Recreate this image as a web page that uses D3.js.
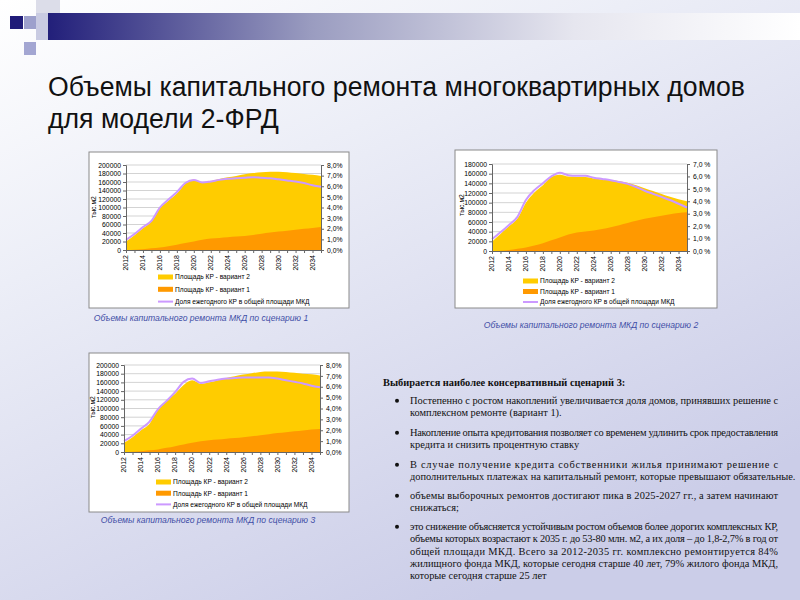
<!DOCTYPE html>
<html>
<head>
<meta charset="utf-8">
<script src="https://cdn.jsdelivr.net/npm/d3@7"></script>
<style>
  body { margin: 0; padding: 0; }
  svg { display: block; }
</style>
</head>
<body>
<div id="main"></div>
<script>
// categories
var years = [2012, 2013, 2014, 2015, 2016, 2017, 2018, 2019, 2020, 2021, 2022, 2023,
             2024, 2025, 2026, 2027, 2028, 2029, 2030, 2031, 2032, 2033, 2034, 2035];
var yearLabels = [2012, 2014, 2016, 2018, 2020, 2022, 2024, 2026, 2028, 2030, 2032, 2034];

// scenario 1 (thousand m2 / %)
var s1Var2 = [20000, 35000, 51000, 67000, 98000, 116000, 133000, 156000, 166000, 158000, 162000, 167000,
              171000, 174000, 178000, 181000, 183000, 184000, 184000, 183000, 181000, 179000, 177000, 174000];
var s1Var1 = [0, 500, 2000, 4000, 6000, 9000, 12500, 16500, 20000, 24000, 27000, 28500,
              30000, 31500, 33000, 35500, 38500, 41000, 43500, 45500, 47500, 50000, 52000, 54000];
var s1Share = [0.95, 1.5, 2.15, 2.75, 4.0, 4.75, 5.45, 6.3, 6.6, 6.35, 6.45, 6.6,
               6.7, 6.75, 6.8, 6.85, 6.8, 6.75, 6.65, 6.55, 6.45, 6.3, 6.1, 5.95];

// scenario 2
var s2Var2 = [19000, 35000, 51000, 67000, 100000, 121000, 136000, 153000, 158000, 154000, 153000, 153000,
              150000, 148000, 147000, 145000, 141000, 136000, 130000, 124000, 118000, 112000, 107000, 103000];
var s2Var1 = [0, 500, 2000, 4500, 7500, 11500, 16000, 22000, 28000, 34000, 38500, 40500,
              42500, 45500, 49000, 53500, 58000, 62500, 66500, 70000, 73000, 76000, 78500, 80000];
var s2Share = [0.95, 1.5, 2.1, 2.75, 4.1, 4.9, 5.45, 6.0, 6.3, 6.1, 6.05, 6.05,
               5.9, 5.8, 5.7, 5.55, 5.4, 5.15, 4.85, 4.6, 4.35, 4.1, 3.8, 3.5];

// scenario 3
var s3Var2 = [21000, 34000, 50000, 65000, 98000, 118000, 134000, 154000, 165000, 157000, 160000, 165000,
              170000, 174000, 178000, 181000, 184000, 185000, 185000, 184000, 182000, 180000, 179000, 176000];
var s3Var1 = [0, 500, 2000, 4000, 6000, 9500, 13500, 17500, 21000, 24500, 27000, 28500,
              30500, 32000, 34000, 36000, 38500, 41000, 43500, 45500, 47500, 49500, 51500, 53000];
var s3Share = [1.0, 1.5, 2.15, 2.8, 3.95, 4.7, 5.5, 6.45, 6.75, 6.35, 6.5, 6.65,
               6.75, 6.8, 6.85, 6.85, 6.85, 6.85, 6.75, 6.6, 6.45, 6.3, 6.1, 5.95];

var leftTicks200 = [0, 20000, 40000, 60000, 80000, 100000, 120000, 140000, 160000, 180000, 200000];
var leftTicks180 = [0, 20000, 40000, 60000, 80000, 100000, 120000, 140000, 160000, 180000];
var rightTicks8 = [0, 1, 2, 3, 4, 5, 6, 7, 8];
var rightTicks7 = [0, 1, 2, 3, 4, 5, 6, 7];

var legendNames = ["Площадь КР - вариант 2", "Площадь КР - вариант 1", "Доля ежегодного КР в общей площади МКД"];
var captions = ["Объемы капитального ремонта МКД по сценарию 1",
                "Объемы капитального ремонта МКД по сценарию 2",
                "Объемы капитального ремонта МКД по сценарию 3"];

var W = 800, H = 600;
var svg = d3.select("#main").append("svg")
  .attr("width", W).attr("height", H);

var defs = svg.append("defs");
var bg = defs.append("linearGradient").attr("id", "bg")
  .attr("x1", "0").attr("y1", "0").attr("x2", "0.6").attr("y2", "1");
bg.append("stop").attr("offset", "0").attr("stop-color", "#ffffff");
bg.append("stop").attr("offset", "0.35").attr("stop-color", "#eceef7");
bg.append("stop").attr("offset", "1").attr("stop-color", "#cbcde8");

var bar = defs.append("linearGradient").attr("id", "bar")
  .attr("x1", "0").attr("y1", "0").attr("x2", "1").attr("y2", "0");
bar.append("stop").attr("offset", "0").attr("stop-color", "#221f7a");
bar.append("stop").attr("offset", "0.35").attr("stop-color", "#9a9cc0");
bar.append("stop").attr("offset", "0.7").attr("stop-color", "#e6e6ef");
bar.append("stop").attr("offset", "1").attr("stop-color", "#ffffff");

svg.append("rect").attr("width", W).attr("height", H).attr("fill", "url(#bg)");

// header decoration
svg.append("rect").attr("x", 48).attr("y", 13).attr("width", 752).attr("height", 27).attr("fill", "url(#bar)");
svg.append("rect").attr("x", 36).attr("y", 0).attr("width", 24).attr("height", 13).attr("fill", "#dcdde9");
svg.append("rect").attr("x", 10).attr("y", 16).attr("width", 13).attr("height", 13).attr("fill", "#1f1b78");
svg.append("rect").attr("x", 24).attr("y", 16).attr("width", 12).attr("height", 13).attr("fill", "#9da0cc");
svg.append("rect").attr("x", 36).attr("y", 13).attr("width", 12).attr("height", 27).attr("fill", "#c9cbe2");
svg.append("rect").attr("x", 24).attr("y", 42).attr("width", 12).attr("height", 13).attr("fill", "#a3a6d2");

// title
var title = svg.append("g").attr("font-family", "Liberation Sans, Arial, sans-serif")
  .attr("font-size", 28).attr("fill", "#111");
var t1 = title.append("text").attr("x", 48).attr("y", 96)
  .text("Объемы капитального ремонта многоквартирных домов");
var t2 = title.append("text").attr("x", 48).attr("y", 128).text("для модели 2-ФРД");
var k = 697 / t1.node().getComputedTextLength();
t1.attr("transform", "translate(48,0) scale(" + k + ",1) translate(-48,0)");
t2.attr("transform", "translate(48,0) scale(" + k + ",1) translate(-48,0)");

function fmtPct(v, sp) {
  return v.toFixed(1).replace(".", ",") + (sp ? " %" : "%");
}

function drawChart(cfg) {
  var g = svg.append("g").attr("font-family", "Liberation Sans, Arial, sans-serif");
  g.append("rect")
    .attr("x", cfg.panel[0]).attr("y", cfg.panel[1])
    .attr("width", cfg.panel[2]).attr("height", cfg.panel[3])
    .attr("fill", "#ffffff").attr("stroke", "#8a8a8a").attr("stroke-width", 1);

  var x = d3.scaleLinear().domain([years[0], years[years.length - 1]]).range([cfg.plot[0], cfg.plot[1]]);
  var y = d3.scaleLinear().domain([0, cfg.yMax]).range([cfg.plot[3], cfg.plot[2]]);
  var y2 = d3.scaleLinear().domain([0, cfg.pMax]).range([cfg.plot[3], cfg.plot[2]]);

  // gridlines
  g.append("g").selectAll("line").data(cfg.leftTicks.slice(1)).enter().append("line")
    .attr("x1", cfg.plot[0]).attr("x2", cfg.plot[1])
    .attr("y1", function(d) { return y(d); }).attr("y2", function(d) { return y(d); })
    .attr("stroke", "#c8c8c8").attr("stroke-width", 0.8);

  var area = function(vals) {
    return d3.area()
      .x(function(d, i) { return x(years[i]); })
      .y0(y(0))
      .y1(function(d) { return y(d); })
      .curve(d3.curveMonotoneX)(vals);
  };
  g.append("path").attr("d", area(cfg.var2)).attr("fill", "#ffcc00");
  g.append("path").attr("d", area(cfg.var1)).attr("fill", "#ff9900");

  var line = d3.line()
    .x(function(d, i) { return x(years[i]); })
    .y(function(d) { return y2(d); })
    .curve(d3.curveMonotoneX);
  g.append("path").attr("d", line(cfg.share))
    .attr("fill", "none").attr("stroke", "#cc99ff").attr("stroke-width", 2);

  // axes
  var ax = g.append("g").attr("transform", "translate(" + cfg.plot[0] + ",0)")
    .call(d3.axisLeft(y).tickValues(cfg.leftTicks).tickSize(3).tickPadding(2).tickFormat(d3.format("d")));
  var ax2 = g.append("g").attr("transform", "translate(" + cfg.plot[1] + ",0)")
    .call(d3.axisRight(y2).tickValues(cfg.rightTicks).tickSize(3).tickPadding(3)
      .tickFormat(function(d) { return fmtPct(d, cfg.pctSpace); }));
  var axb = g.append("g").attr("transform", "translate(0," + cfg.plot[3] + ")")
    .call(d3.axisBottom(x).tickValues(years).tickSize(3).tickFormat(""));
  g.append("g").attr("transform", "translate(0," + cfg.plot[3] + ")")
    .selectAll("text").data(yearLabels).enter().append("text")
    .attr("transform", function(d) { return "translate(" + (x(d) + 2.3) + ",5) rotate(-90)"; })
    .attr("text-anchor", "end").attr("font-size", 7).attr("fill", "#000")
    .text(function(d) { return d; });

  [ax, ax2, axb].forEach(function(a) {
    a.select(".domain").attr("stroke", "#666");
    a.selectAll(".tick line").attr("stroke", "#666");
    a.selectAll("text").attr("font-size", 6.8).attr("fill", "#000").attr("font-family", "Liberation Sans, Arial, sans-serif");
  });

  // y title
  g.append("text")
    .attr("transform", "translate(" + cfg.yTitle[0] + "," + cfg.yTitle[1] + ") rotate(-90)")
    .attr("text-anchor", "middle").attr("font-size", 6.8).attr("fill", "#000")
    .text("тыс.м2");

  // legend
  var lg = g.append("g").attr("font-size", 6.6);
  legendNames.forEach(function(name, i) {
    var ly = cfg.legend[1] + i * cfg.legend[2];
    if (i < 2) {
      lg.append("rect").attr("x", cfg.legend[0]).attr("y", ly - 2.5).attr("width", 15).attr("height", 5)
        .attr("fill", i === 0 ? "#ffcc00" : "#ff9900");
    } else {
      lg.append("line").attr("x1", cfg.legend[0]).attr("x2", cfg.legend[0] + 15)
        .attr("y1", ly).attr("y2", ly).attr("stroke", "#cc99ff").attr("stroke-width", 2);
    }
    lg.append("text").attr("x", cfg.legend[0] + 17).attr("y", ly + 2.3).attr("fill", "#000").text(name);
  });

  // caption
  svg.append("text").attr("x", cfg.caption[0]).attr("y", cfg.caption[1])
    .attr("text-anchor", "middle").attr("font-family", "Liberation Sans, Arial, sans-serif")
    .attr("font-style", "italic").attr("font-size", 8.6).attr("fill", "#3f4ea6")
    .text(cfg.captionText);
}

drawChart({
  panel: [89, 152, 260, 156], plot: [126, 321, 165, 250],
  yMax: 200000, pMax: 8, leftTicks: leftTicks200, rightTicks: rightTicks8, pctSpace: false,
  var2: s1Var2, var1: s1Var1, share: s1Share,
  yTitle: [96, 207], legend: [158, 277, 12.3],
  caption: [201, 321], captionText: captions[0]
});
drawChart({
  panel: [455, 150, 262, 158], plot: [492, 687, 164, 251],
  yMax: 180000, pMax: 7, leftTicks: leftTicks180, rightTicks: rightTicks7, pctSpace: true,
  var2: s2Var2, var1: s2Var1, share: s2Share,
  yTitle: [464, 205], legend: [523, 281, 10.5],
  caption: [591, 328], captionText: captions[1]
});
drawChart({
  panel: [89, 353, 260, 159], plot: [124, 320, 365, 452],
  yMax: 200000, pMax: 8, leftTicks: leftTicks200, rightTicks: rightTicks8, pctSpace: false,
  var2: s3Var2, var1: s3Var1, share: s3Share,
  yTitle: [95, 407], legend: [156, 482, 11.2],
  caption: [208, 523], captionText: captions[2]
});

// text block
var heading = "Выбирается наиболее консервативный сценарий 3:";
var bullets = [
  ["Постепенно с ростом накоплений увеличивается доля домов, принявших решение с",
   "комплексном ремонте (вариант 1)."],
  ["Накопление опыта кредитования позволяет со временем удлинить срок предоставления",
   "кредита и снизить процентную ставку"],
  ["В случае получение кредита собственники жилья принимают решение с",
   "дополнительных платежах на капитальный ремонт, которые превышают обязательные."],
  ["объемы выборочных ремонтов достигают пика в 2025-2027 гг., а затем начинают",
   "снижаться;"],
  ["это снижение объясняется устойчивым ростом объемов более дорогих комплексных КР,",
   "объемы которых возрастают к 2035 г. до 53-80 млн. м2, а их доля – до 1,8-2,7% в год от",
   "общей площади МКД. Всего за 2012-2035 гг. комплексно ремонтируется 84%",
   "жилищного фонда МКД, которые сегодня старше 40 лет, 79% жилого фонда МКД,",
   "которые сегодня старше 25 лет"]
];
var bulletY = [404, 436, 468, 499, 530];
var lineH = 12.3, textX = 410, textW = 368;

var tb = svg.append("g").attr("font-family", "Liberation Serif, Times New Roman, serif")
  .attr("font-size", 10.4).attr("fill", "#111");
tb.append("text").attr("x", 383).attr("y", 386).attr("font-weight", "bold").text(heading);
bullets.forEach(function(lines, bi) {
  tb.append("circle").attr("cx", 397).attr("cy", bulletY[bi] - 3.3).attr("r", 2).attr("fill", "#111");
  lines.forEach(function(l, li) {
    var t = tb.append("text").attr("x", textX).attr("y", bulletY[bi] + li * lineH).text(l);
    if (li < lines.length - 1) t.attr("textLength", textW).attr("lengthAdjust", "spacing");
  });
});
</script>
</body>
</html>
